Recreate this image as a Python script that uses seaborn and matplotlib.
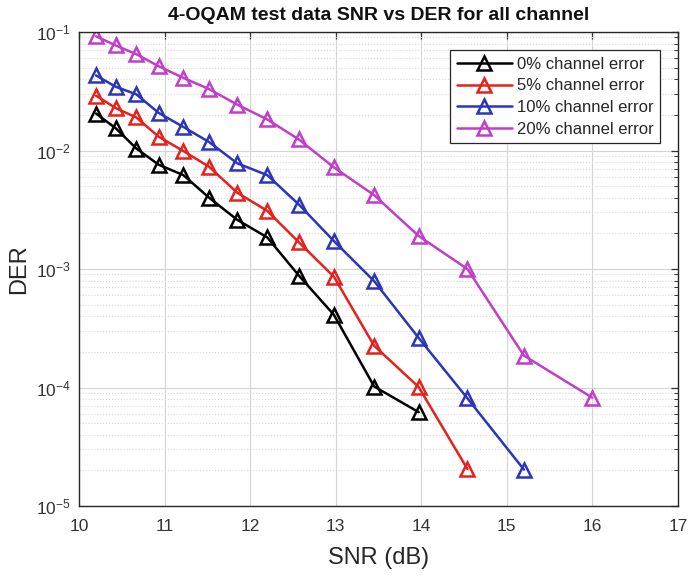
import numpy as np
import pandas as pd
import matplotlib
matplotlib.use("Agg")
import matplotlib.pyplot as plt
import seaborn as sns
from matplotlib.ticker import LogLocator, NullFormatter

# SNR points (dB) shared by all curves
snr = [10.2, 10.43, 10.67, 10.93, 11.22, 11.52, 11.85, 12.2, 12.57, 12.98,
       13.45, 13.97, 14.54, 15.2, 16.0]

der_0 = [0.0205, 0.0154, 0.0104, 0.0076, 0.0062, 0.0040, 0.0026, 0.00185,
         0.00088, 0.00041, 0.000102, 0.000062]
der_5 = [0.0290, 0.0228, 0.0190, 0.0131, 0.0099, 0.0073, 0.0044, 0.0031,
         0.00168, 0.00086, 0.000225, 0.000101, 0.0000205]
der_10 = [0.0430, 0.0345, 0.0298, 0.0208, 0.0158, 0.0118, 0.0078, 0.0062,
          0.0035, 0.00172, 0.00079, 0.000262, 0.000081, 0.0000203]
der_20 = [0.0920, 0.0770, 0.0650, 0.0515, 0.0410, 0.0330, 0.0244, 0.0183,
          0.0124, 0.0072, 0.0042, 0.00190, 0.00100, 0.000186, 0.000082]

labels = ["0% channel error", "5% channel error",
          "10% channel error", "20% channel error"]
colors = ["#000000", "#e8201c", "#2a35b8", "#c13ec8"]

# long table for seaborn
frames = []
for lab, vals in zip(labels, [der_0, der_5, der_10, der_20]):
    frames.append(pd.DataFrame({"snr": snr[:len(vals)], "der": vals, "case": lab}))
df = pd.concat(frames, ignore_index=True)

sns.set_style("white")
plt.rcParams["font.family"] = ["Liberation Sans", "DejaVu Sans"]

fig = plt.figure(figsize=(6.9, 5.77), dpi=100)
ax = fig.add_axes([0.1145, 0.123, 0.868, 0.8215])

for lab, col in zip(labels, colors):
    sub = df[df["case"] == lab]
    sns.lineplot(data=sub, x="snr", y="der", ax=ax, color=col, label=lab,
                 marker="^", markersize=10.5, mfc="none", mec=col, mew=1.8,
                 linewidth=1.8, sort=False)

ax.set_yscale("log")
ax.set_xlim(10, 17)
ax.set_ylim(1e-5, 1e-1)
ax.set_xticks(range(10, 18))
ax.yaxis.set_major_locator(LogLocator(base=10, numticks=10))
ax.yaxis.set_minor_locator(LogLocator(base=10, subs=np.arange(2, 10), numticks=20))
ax.yaxis.set_minor_formatter(NullFormatter())

ax.grid(True, which="major", color="#d4d4d4", linewidth=0.8)
ax.grid(True, which="minor", axis="y", color="#d8d8d8", linestyle=":", linewidth=0.8)
ax.set_axisbelow(True)

ax.tick_params(which="both", direction="in", top=True, right=True,
               labelsize=12.5, colors="#333333")
ax.tick_params(which="major", length=5, width=0.9)
ax.tick_params(which="minor", length=3, width=0.7)
ax.tick_params(axis="x", pad=9)
ax.tick_params(axis="y", pad=6)
for sp in ax.spines.values():
    sp.set_color("#262626")
    sp.set_linewidth(1.0)

ax.set_xlabel("SNR (dB)", fontsize=17, color="#262626", labelpad=10)
ax.set_ylabel("DER", fontsize=17, color="#262626", labelpad=4)
ax.set_title("4-OQAM test data SNR vs DER for all channel",
             fontsize=14, fontweight="bold", pad=9, color="#111111")

leg = ax.legend(loc="upper right", bbox_to_anchor=(0.970, 0.962),
                borderaxespad=0, fontsize=12, handlelength=3.3,
                labelspacing=0.4, handletextpad=0.3, borderpad=0.4,
                fancybox=False, framealpha=1, edgecolor="#262626")
leg.get_frame().set_linewidth(0.9)

fig.savefig("out.png", dpi=100)
